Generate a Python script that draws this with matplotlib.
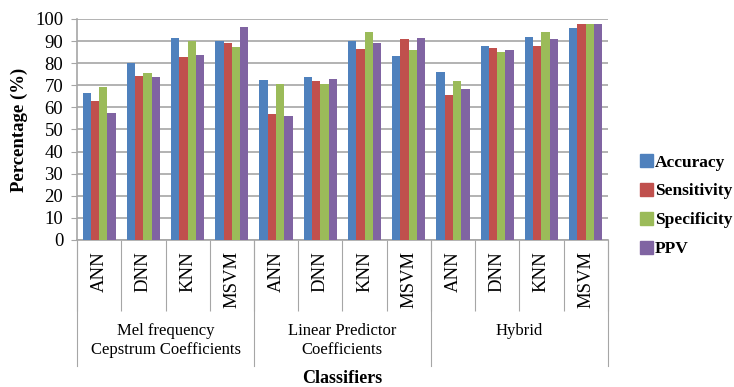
import numpy as np
import matplotlib.pyplot as plt
from matplotlib.patches import Patch
import matplotlib.transforms as mtransforms

plt.rcParams['font.family'] = ['Liberation Serif', 'DejaVu Serif']

# Data
groups = ['Mel frequency\nCepstrum Coefficients', 'Linear Predictor\nCoefficients', 'Hybrid']
classifiers = ['ANN', 'DNN', 'KNN', 'MSVM'] * 3
metrics = ['Accuracy', 'Sensitivity', 'Specificity', 'PPV']

accuracy = [66.6, 79.9, 91.4, 90.0, 72.4, 73.6, 90.0, 83.2, 76.0, 87.6, 92.0, 95.9]
sensitivity = [62.8, 74.0, 82.8, 89.3, 57.1, 71.9, 86.3, 90.9, 65.4, 86.7, 87.6, 97.6]
specificity = [69.2, 75.5, 90.0, 87.2, 70.5, 70.5, 94.1, 85.8, 71.9, 85.0, 94.1, 97.6]
ppv = [57.3, 73.7, 83.7, 96.4, 55.9, 72.8, 89.3, 91.4, 68.1, 85.8, 90.8, 97.6]

series = [accuracy, sensitivity, specificity, ppv]
colors = ['#4F81BD', '#C0504D', '#9BBB59', '#8064A2']

fig = plt.figure(figsize=(7.34, 3.87), dpi=100)
ax = fig.add_axes([0.105, 0.380, 0.723, 0.571])

x = np.arange(len(classifiers))
w = 0.1875
for i, (vals, c) in enumerate(zip(series, colors)):
    ax.bar(x + (i - 1.5) * w, vals, width=w, color=c, zorder=3)

ax.set_xlim(-0.5, len(classifiers) - 0.5)
ax.set_ylim(0, 100)
ax.set_yticks(range(0, 101, 10))
ax.yaxis.grid(True, color='#A6A6A6', linewidth=1.2, zorder=0)
ax.tick_params(axis='y', labelsize=13.5, length=4, color='#A6A6A6', pad=6)

ax.set_xticks(x)
ax.set_xticklabels(classifiers, rotation=90, fontsize=13.5)
ax.tick_params(axis='x', which='major', length=0, pad=8)
ax.set_xticks(np.arange(-0.5, len(classifiers), 1), minor=True)
ax.tick_params(axis='x', which='minor', length=51, color='#A6A6A6', width=0.8)

for s in ['top', 'right']:
    ax.spines[s].set_visible(False)
for s in ['left', 'bottom']:
    ax.spines[s].set_color('#A6A6A6')
    ax.spines[s].set_linewidth(1.2)

# group separators and labels
trans = mtransforms.blended_transform_factory(ax.transData, ax.transAxes)
for b in [-0.5, 3.5, 7.5, 11.5]:
    ax.plot([b, b], [0, -0.57], color='#A6A6A6', lw=0.8, transform=trans, clip_on=False)
for gi, g in enumerate(groups):
    ax.text(gi * 4 + 1.5, -0.375, g, transform=trans, ha='center', va='top',
            fontsize=12, linespacing=1.3)

ax.set_ylabel('Percentage (%)', fontsize=13.5, fontweight='bold', labelpad=5)
fig.text(0.466, 0.022, 'Classifiers', ha='center', va='center', fontsize=13, fontweight='bold')

handles = [Patch(color=c) for c in colors]
fig.legend(handles, metrics, loc='upper left', bbox_to_anchor=(0.850, 0.642),
           frameon=False, handlelength=0.75, handleheight=0.75, handletextpad=0.15,
           labelspacing=0.72, prop={'weight': 'bold', 'size': 12.5})

fig.savefig('out.png', dpi=100)
